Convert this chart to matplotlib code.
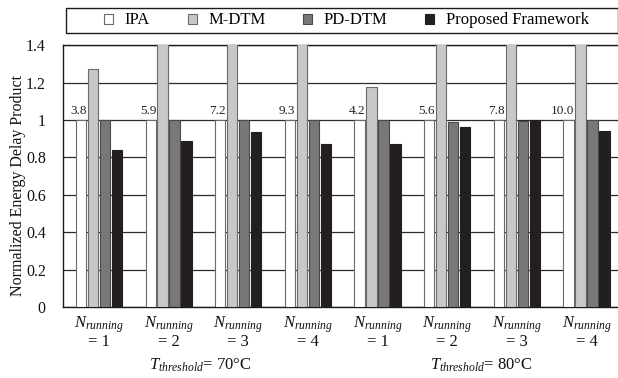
import numpy as np
import matplotlib
matplotlib.use("Agg")
import matplotlib.pyplot as plt
from matplotlib.patches import Patch, Rectangle
from matplotlib.ticker import FuncFormatter

# ---- data -------------------------------------------------------------
series_names = ["IPA", "M-DTM", "PD-DTM", "Proposed Framework"]
n_running = [1, 2, 3, 4, 1, 2, 3, 4]
thresholds = ["70°C", "80°C"]

ipa = [3.8, 5.9, 7.2, 9.3, 4.2, 5.6, 7.8, 10.0]
m_dtm = [1.275, 1.45, 1.45, 1.45, 1.178, 1.45, 1.45, 1.45]
pd_dtm = [1.0, 1.0, 1.0, 1.0, 1.0, 0.99, 0.995, 1.0]
proposed = [0.837, 0.89, 0.935, 0.869, 0.874, 0.964, 1.0, 0.94]

yticks = [0, 0.2, 0.4, 0.6, 0.8, 1.0, 1.2, 1.4]

# ---- style ------------------------------------------------------------
plt.rcParams["font.family"] = ["Liberation Serif", "DejaVu Serif"]
plt.rcParams["mathtext.fontset"] = "custom"
plt.rcParams["mathtext.rm"] = "Liberation Serif"
plt.rcParams["mathtext.it"] = "Liberation Serif:italic"

fills = ["#ffffff", "#c8c8c8", "#78787a", "#231f20"]
edges = ["#6a6a6a", "#6a6a6a", "#4a4a4a", "#231f20"]
ipa_cap = 1.0  # IPA bars are cut at the baseline; their value is printed above

W, H = 618, 378
fig = plt.figure(figsize=(W / 100, H / 100), dpi=100)
ax = fig.add_axes([62.5 / W, (H - 307) / H, (W - 62.5) / W, (307 - 45.2) / H])

x = np.arange(len(n_running))
step, width = 0.172, 0.148
values = [np.minimum(ipa, ipa_cap), m_dtm, pd_dtm, proposed]
for i, vals in enumerate(values):
    ax.bar(x + (i - 1.5) * step, vals, width=width, color=fills[i],
           edgecolor=edges[i], linewidth=0.8, zorder=3)

# IPA value labels
for xi, v in zip(x, ipa):
    ax.text(xi - 1.5 * step + width / 2 + 0.005, ipa_cap + 0.014, f"{v:.1f}",
            ha="right", va="bottom", fontsize=9.5, color="#222222", zorder=4)

ax.set_ylim(0, 1.4)
ax.set_xlim(-0.524, 7.453)
ax.set_yticks(yticks)
ax.yaxis.set_major_formatter(FuncFormatter(lambda v, p: f"{v:g}"))
ax.grid(axis="y", color="#2a2a2a", linewidth=0.9, zorder=0)
ax.set_axisbelow(True)
ax.tick_params(axis="both", length=0, colors="#111111")
ax.tick_params(axis="y", pad=12, labelsize=11.5)
ax.tick_params(axis="x", pad=5, labelsize=12)
ax.set_xticks(x)
ax.set_xticklabels([f"$N_{{running}}$\n= {n}" for n in n_running],
                   linespacing=0.95)

for s in ["left", "top", "bottom"]:
    ax.spines[s].set_color("#1a1a1a")
    ax.spines[s].set_linewidth(1.0)
ax.spines["right"].set_visible(False)

ax.set_ylabel("Normalized Energy Delay Product", fontsize=11.5, color="#111111")
ax.yaxis.set_label_coords((26 - 62.5) / (W - 62.5), 0.464)

# threshold group labels
for cx, t in zip([200, 481], thresholds):
    fig.text(cx / W, 1 - 365 / H, f"$T_{{threshold}}$= {t}", ha="center",
             va="center", fontsize=12, color="#111111")

# legend with its own box
fig.patches.append(Rectangle((66 / W, 1 - 33 / H), (W - 66.5) / W, 25 / H,
                             transform=fig.transFigure, fill=False,
                             edgecolor="#1a1a1a", linewidth=1.0))
handles = [Patch(facecolor=f, edgecolor=e, linewidth=0.8)
           for f, e in zip(fills, edges)]
fig.legend(handles, series_names, loc="center", ncol=4,
           bbox_to_anchor=(346.5 / W, 1 - 20.5 / H), frameon=False,
           fontsize=12, handlelength=0.55, handleheight=0.55,
           handletextpad=0.7, columnspacing=2.25)

fig.savefig("out.png", dpi=100)
